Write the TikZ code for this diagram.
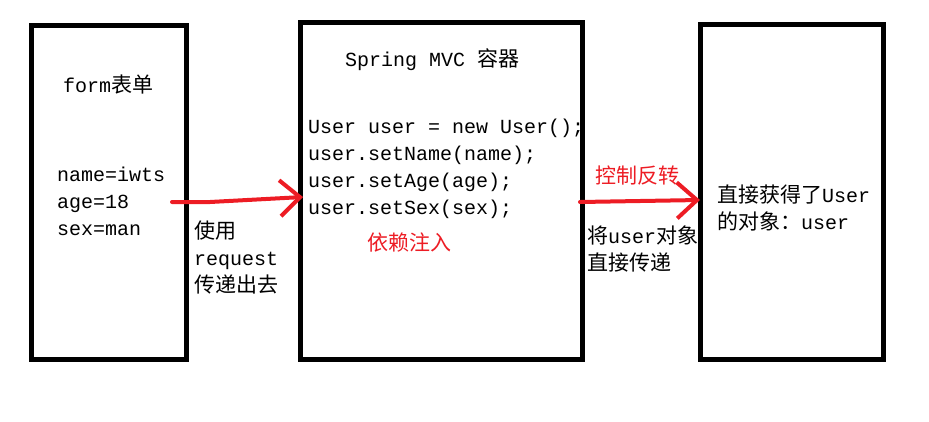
\documentclass[tikz,border=0pt]{standalone}
\usepackage{fontspec}
\setmainfont{Liberation Mono}
\newfontfamily\cjk[Scale=1.05]{Noto Sans CJK SC}
\usetikzlibrary{arrows.meta}
\definecolor{MvcRed}{HTML}{ED1C24}
\tikzset{
  mvcbox/.style={
    draw=black,
    line width=5pt,
    fill=white
  },
  mvctext/.style={
    anchor=base west,
    inner sep=0pt,
    align=left,
    font=\fontsize{20}{27}\selectfont
  },
  mvcred/.style={
    mvctext,
    text=MvcRed
  },
  mvcarrow/.style={-{Straight Barb[length=20pt,width=36pt]},line width=4pt,draw=MvcRed,line cap=round,line join=round}
}

\begin{document}
\begin{tikzpicture}[x=1pt,y=-1pt]
    \useasboundingbox (0,0) rectangle (929,421);
    % the three boxes
    \node[mvcbox,minimum width=155pt,minimum height=334pt] (form) at (109,192.5) {};
    \node[mvcbox,minimum width=282pt,minimum height=337pt] (spring) at (441.5,191) {};
    \node[mvcbox,minimum width=183pt,minimum height=335pt] (result) at (792,192) {};
    % texts (base = last line)
    \node[mvctext] (formtitle) at (63,92) {form{\cjk 表单}};
    \node[mvctext] (formdata) at (57,235) {name=iwts\\age=18\\sex=man};
    \node[mvctext] (request) at (194,292) {{\cjk 使用}\\request\\{\cjk 传递出去}};
    \node[mvctext] (springtitle) at (345,66) {Spring MVC {\cjk 容器}};
    \node[mvctext] (code) at (308,214) {User user = new User();\\user.setName(name);\\user.setAge(age);\\user.setSex(sex);};
    \node[mvcred] (inject) at (367,250) {\cjk 依赖注入};
    \node[mvcred] (ioc) at (595,183) {\cjk 控制反转};
    \node[mvctext] (pass) at (587,270) {{\cjk 将}user{\cjk 对象}\\{\cjk 直接传递}};
    \node[mvctext] (got) at (717,229) {{\cjk 直接获得了}User\\{\cjk 的对象：}user};
    % arrows
    \draw[mvcarrow] ([xshift=-17pt,yshift=-9.5pt]form.east) -- ++(38,0) -- ([xshift=5pt,yshift=-6pt]spring.west);
    \draw[mvcarrow] ([xshift=-5pt,yshift=-11pt]spring.east) -- ([xshift=2pt,yshift=-8pt]result.west);
\end{tikzpicture}
\end{document}
